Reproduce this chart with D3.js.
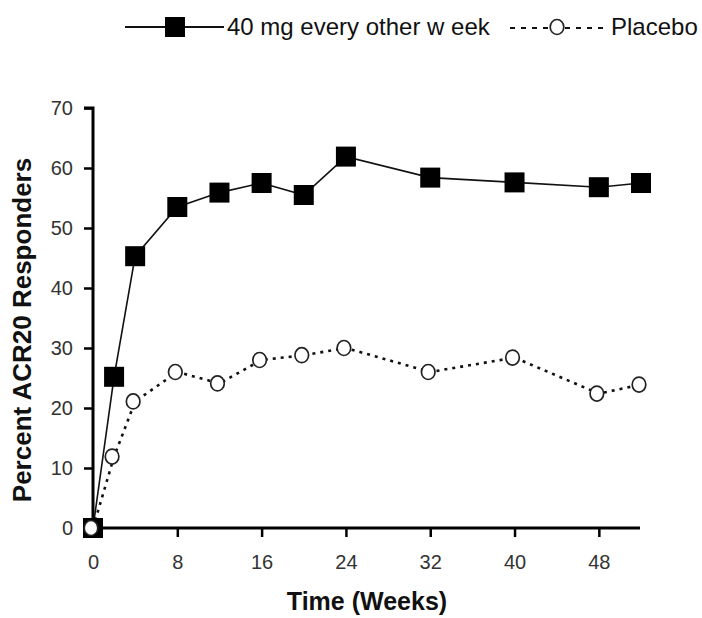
<!DOCTYPE html>
<html><head><meta charset="utf-8">
<script src="https://cdn.jsdelivr.net/npm/d3@7"></script>
<style>body{margin:0;background:#fff}svg{display:block}text{font-family:"Liberation Sans",Arial,sans-serif}</style>
</head><body>
<script>
const weeks = [0, 2, 4, 8, 12, 16, 20, 24, 32, 40, 48, 52];
const adalimumab = [0, 25.2, 45.3, 53.5, 55.9, 57.5, 55.5, 61.9, 58.4, 57.6, 56.8, 57.5];
const placebo = [0, 11.9, 21.1, 26.0, 24.1, 28.0, 28.8, 30.0, 26.0, 28.4, 22.4, 23.9];
const xTicks = [0, 8, 16, 24, 32, 40, 48];
const yTicks = [0, 10, 20, 30, 40, 50, 60, 70];
const seriesNames = ["40 mg every other w eek", "Placebo"];

const W = 702, H = 618;
const svg = d3.select("body").append("svg").attr("width", W).attr("height", H);

const x = d3.scaleLinear().domain([0, 52]).range([93, 641]);
const y = d3.scaleLinear().domain([0, 70]).range([528, 108]);

// axes
const yAxis = svg.append("g").attr("transform", "translate(93,0)")
  .call(d3.axisLeft(y).tickValues(yTicks).tickSize(9).tickPadding(11).tickFormat(d3.format("d")));
yAxis.select(".domain").attr("d", `M-9,${y(70)}H0V${y(0)}`);
const xAxis = svg.append("g").attr("transform", "translate(0,528)")
  .call(d3.axisBottom(x).tickValues(xTicks).tickSize(9).tickPadding(18).tickFormat(d3.format("d")));
xAxis.select(".domain").attr("d", `M${x(0)},0H640`);
[yAxis, xAxis].forEach(g => {
  g.selectAll(".domain").attr("stroke", "#000").attr("stroke-width", 3);
  g.selectAll(".tick line").attr("stroke", "#000").attr("stroke-width", 2.5);
  g.selectAll(".tick text").attr("fill", "#333").attr("font-size", 20)
    .attr("font-family", '"Liberation Sans", Arial, sans-serif');
});
xAxis.selectAll(".tick line").filter(d => d === 0).remove();
yAxis.selectAll(".tick line").filter(d => d === 0).remove();

// axis titles
svg.append("text").attr("x", 367).attr("y", 610).attr("text-anchor", "middle")
  .attr("font-size", 25).attr("font-weight", "bold").attr("fill", "#111").text("Time (Weeks)");
svg.append("text").attr("transform", "translate(31,330) rotate(-90)").attr("text-anchor", "middle")
  .attr("font-size", 26).attr("font-weight", "bold").attr("fill", "#111").text("Percent ACR20 Responders");

const line = d3.line().x(d => x(d[0])).y(d => y(d[1]));
const pData = weeks.map((w, i) => [w, placebo[i]]);
const aData = weeks.map((w, i) => [w, adalimumab[i]]);

// placebo
svg.append("path").datum(pData).attr("d", line).attr("fill", "none")
  .attr("stroke", "#111").attr("stroke-width", 2.6).attr("stroke-dasharray", "3,5");
// active
svg.append("path").datum(aData).attr("d", line).attr("fill", "none")
  .attr("stroke", "#111").attr("stroke-width", 1.6);
svg.selectAll(".sq").data(aData).enter().append("rect")
  .attr("x", d => x(d[0]) - 10).attr("y", d => y(d[1]) - 10)
  .attr("width", 20).attr("height", 20).attr("fill", "#000");
svg.selectAll(".ci").data(pData).enter().append("ellipse")
  .attr("cx", d => x(d[0]) - 2).attr("cy", d => y(d[1]))
  .attr("rx", 6.8).attr("ry", 7.5).attr("fill", "#fff").attr("stroke", "#222").attr("stroke-width", 1.7);

// legend
const lg = svg.append("g");
lg.append("line").attr("x1", 125).attr("x2", 224).attr("y1", 27).attr("y2", 27)
  .attr("stroke", "#111").attr("stroke-width", 1.8);
lg.append("rect").attr("x", 165).attr("y", 17).attr("width", 20).attr("height", 20).attr("fill", "#000");
lg.append("text").attr("x", 227).attr("y", 35).attr("font-size", 24).attr("fill", "#111").text(seriesNames[0]);
lg.append("line").attr("x1", 510).attr("x2", 606).attr("y1", 28).attr("y2", 28)
  .attr("stroke", "#111").attr("stroke-width", 2.2).attr("stroke-dasharray", "5,6");
lg.append("ellipse").attr("cx", 557).attr("cy", 27).attr("rx", 6.8).attr("ry", 7.5)
  .attr("fill", "#fff").attr("stroke", "#222").attr("stroke-width", 1.7);
lg.append("text").attr("x", 611).attr("y", 35).attr("font-size", 24).attr("fill", "#111").text(seriesNames[1]);
</script>
</body></html>
